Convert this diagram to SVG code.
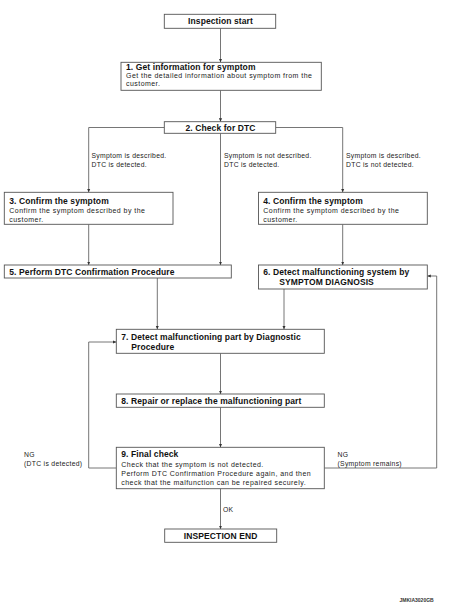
<svg xmlns="http://www.w3.org/2000/svg" width="465" height="609" viewBox="0 0 465 609">
<style>
.box{fill:#fff;stroke:#555;stroke-width:0.9}
.t{font-family:"Liberation Sans",Arial,sans-serif;font-weight:bold;font-size:8.5px;letter-spacing:0.1px;fill:#111}
.s{font-family:"Liberation Sans",Arial,sans-serif;font-size:7px;letter-spacing:0.45px;fill:#222}
.l{font-family:"Liberation Sans",Arial,sans-serif;font-size:6.8px;letter-spacing:0.3px;fill:#222}
.c{text-anchor:middle}
.e{fill:none;stroke:#666;stroke-width:0.9}
</style>
<defs>
<marker id="ah" markerUnits="userSpaceOnUse" markerWidth="4" markerHeight="4" refX="3.5" refY="2" orient="auto">
<path d="M0,0.4 L3.5,2 L0,3.6 z" fill="#333"/>
</marker>
</defs>
<rect width="465" height="609" fill="#fff"/>
<g id="connectors" marker-end="url(#ah)">
<path class="e" d="M220.5,28.3 V62.3"/>
<path class="e" d="M220.5,90.3 V121.7"/>
<path class="e" d="M164.3,127.5 H88.7 V192.3"/>
<path class="e" d="M220.5,133.3 V265"/>
<path class="e" d="M275.7,127.5 H342.7 V192.3"/>
<path class="e" d="M88.7,224.3 V265"/>
<path class="e" d="M342.7,224.3 V265"/>
<path class="e" d="M157.3,278 V329.3"/>
<path class="e" d="M284,289 V329.3"/>
<path class="e" d="M220.5,353.3 V394"/>
<path class="e" d="M220.5,407.3 V447.3"/>
<path class="e" d="M116.3,468 H88.7 V342 H116.3"/>
<path class="e" d="M324.3,468 H436.7 V276 H427.3"/>
<path class="e" d="M220.5,488.7 V529"/>
</g>
<g id="start">
<rect class="box" x="164.3" y="14.3" width="111.4" height="14"/>
<text class="t c" x="220.5" y="24.4">Inspection start</text>
</g>
<g id="step1">
<rect class="box" x="121" y="62.3" width="200.3" height="28"/>
<text class="t" x="126" y="69.6">1. Get information for symptom</text>
<text class="s" x="126" y="78.3">Get the detailed information about symptom from the</text>
<text class="s" x="126" y="86.3">customer.</text>
</g>
<g id="step2">
<rect class="box" x="164.3" y="121.7" width="111.4" height="11.6"/>
<text class="t c" x="220.5" y="130.8">2. Check for DTC</text>
</g>
<g id="labels">
<text class="l" x="91.5" y="158.2">Symptom is described.</text>
<text class="l" x="91.5" y="166.8">DTC is detected.</text>
<text class="l" x="224" y="158.2">Symptom is not described.</text>
<text class="l" x="224" y="166.8">DTC is detected.</text>
<text class="l" x="346" y="158.2">Symptom is described.</text>
<text class="l" x="346" y="166.8">DTC is not detected.</text>
<text class="l" x="24" y="456.5">NG</text>
<text class="l" x="24" y="465.8">(DTC is detected)</text>
<text class="l" x="337.5" y="456.5">NG</text>
<text class="l" x="337.5" y="465.8">(Symptom remains)</text>
<text class="l" x="223" y="511.5">OK</text>
</g>
<g id="step3">
<rect class="box" x="4.3" y="192.3" width="168.7" height="32"/>
<text class="t" x="9.3" y="203.6">3. Confirm the symptom</text>
<text class="s" x="9.3" y="213.3">Confirm the symptom described by the</text>
<text class="s" x="9.3" y="221.8">customer.</text>
</g>
<g id="step4">
<rect class="box" x="258.5" y="192.3" width="168.8" height="32"/>
<text class="t" x="263.3" y="203.6">4. Confirm the symptom</text>
<text class="s" x="263.3" y="213.3">Confirm the symptom described by the</text>
<text class="s" x="263.3" y="221.8">customer.</text>
</g>
<g id="step5">
<rect class="box" x="4.3" y="265" width="227" height="13"/>
<text class="t" x="9.3" y="275">5. Perform DTC Confirmation Procedure</text>
</g>
<g id="step6">
<rect class="box" x="258.5" y="265" width="168.8" height="24"/>
<text class="t" x="263.3" y="274.6">6. Detect malfunctioning system by</text>
<text class="t" x="279.3" y="285.2">SYMPTOM DIAGNOSIS</text>
</g>
<g id="step7">
<rect class="box" x="116.3" y="329.3" width="208" height="24"/>
<text class="t" x="121.3" y="339.8">7. Detect malfunctioning part by Diagnostic</text>
<text class="t" x="131.3" y="350.4">Procedure</text>
</g>
<g id="step8">
<rect class="box" x="116.3" y="394" width="208" height="13.3"/>
<text class="t" x="121.3" y="403.8">8. Repair or replace the malfunctioning part</text>
</g>
<g id="step9">
<rect class="box" x="116.3" y="447.3" width="208" height="41.4"/>
<text class="t" x="121.3" y="457.3">9. Final check</text>
<text class="s" x="121.3" y="466.6">Check that the symptom is not detected.</text>
<text class="s" x="121.3" y="475.8">Perform DTC Confirmation Procedure again, and then</text>
<text class="s" x="121.3" y="484.6">check that the malfunction can be repaired securely.</text>
</g>
<g id="end">
<rect class="box" x="164.7" y="529" width="112" height="13.3"/>
<text class="t c" x="220.7" y="539.1">INSPECTION END</text>
</g>
<text x="399.5" y="601.8" font-family="Liberation Sans,Arial,sans-serif" font-weight="bold" font-size="5" fill="#333">JMKIA3020GB</text>
</svg>
